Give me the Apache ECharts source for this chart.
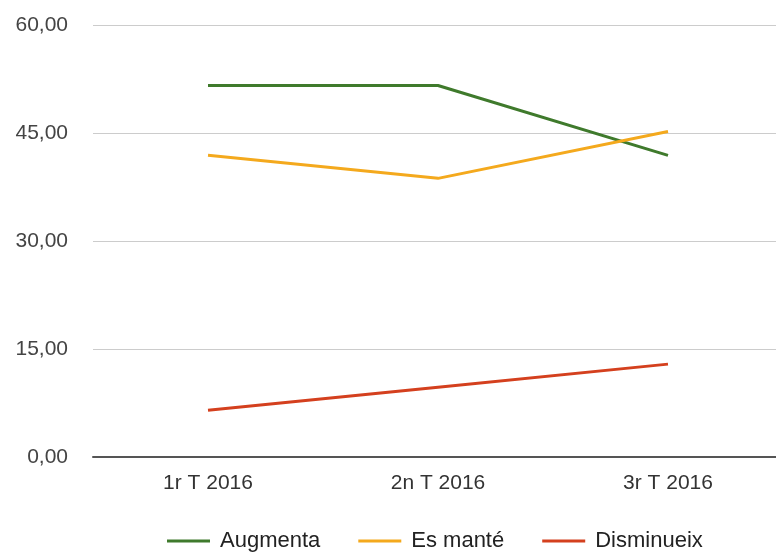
<!DOCTYPE html>
<html>
<head>
<meta charset="utf-8">
<script src="https://cdn.jsdelivr.net/npm/echarts@6/dist/echarts.min.js"></script>
<style>
  html, body { margin: 0; padding: 0; background: #fff; }
  #chart { width: 776px; height: 554px; }
</style>
</head>
<body>
<div id="chart"></div>
<script>
// dades llegides del gràfic
var categories = ["1r T 2016", "2n T 2016", "3r T 2016"];
var augmenta = [51.6, 51.6, 41.9];
var esMante = [41.9, 38.7, 45.2];
var disminueix = [6.5, 9.7, 12.9];
var yTicks = [0, 15, 30, 45, 60];

var font = "'Liberation Sans', Arial, sans-serif";

var myChart = echarts.init(document.getElementById("chart"));
myChart.setOption({
  backgroundColor: "#ffffff",
  animation: false,
  grid: {
    left: 93,
    top: 25,
    width: 690,
    height: 432,
    outerBoundsMode: "none"
  },
  legend: {
    top: 525,
    left: 162,
    icon: "rect",
    itemWidth: 43,
    itemHeight: 3,
    itemGap: 38,
    textStyle: { color: "#222", fontSize: 22, fontFamily: font, padding: [0, 0, 0, 5] },
    data: ["Augmenta", "Es manté", "Disminueix"]
  },
  xAxis: {
    type: "category",
    boundaryGap: true,
    data: categories,
    axisTick: { show: false },
    axisLine: { lineStyle: { color: "#555", width: 2 } },
    axisLabel: { color: "#333", fontSize: 21, fontFamily: font, margin: 16 }
  },
  yAxis: {
    type: "value",
    min: yTicks[0],
    max: yTicks[yTicks.length - 1],
    interval: 15,
    axisLine: { show: false },
    axisTick: { show: false },
    splitLine: { lineStyle: { color: "#cccccc", width: 1 } },
    axisLabel: {
      color: "#444",
      fontSize: 21,
      fontFamily: font,
      margin: 25,
      formatter: function (v) { return v.toFixed(2).replace(".", ","); }
    }
  },
  series: [
    {
      name: "Augmenta",
      type: "line",
      data: augmenta,
      showSymbol: false,
      color: "#3f7a2c",
      lineStyle: { width: 3 }
    },
    {
      name: "Es manté",
      type: "line",
      data: esMante,
      showSymbol: false,
      color: "#f4a91d",
      lineStyle: { width: 3 }
    },
    {
      name: "Disminueix",
      type: "line",
      data: disminueix,
      showSymbol: false,
      color: "#d4401e",
      lineStyle: { width: 3 }
    }
  ]
});
</script>
</body>
</html>
